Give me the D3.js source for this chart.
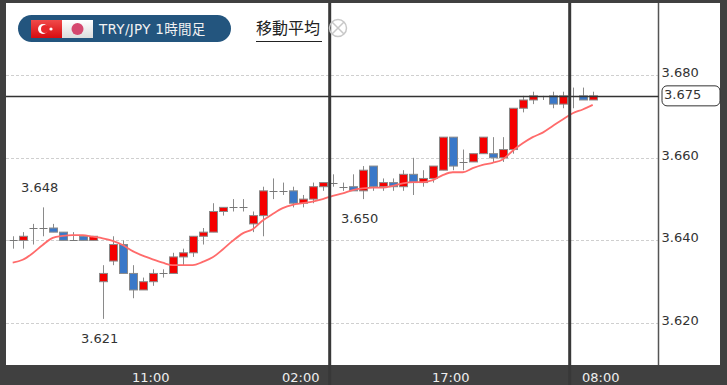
<!DOCTYPE html>
<html lang="ja">
<head>
  <meta charset="UTF-8">
  <title>TRY/JPY 1時間足</title>
  <style>
    html, body { margin: 0; padding: 0; background: #404040; overflow: hidden; }
    svg { display: block; }
    text { font-family: 'DejaVu Sans', sans-serif; }
    .tick-label { font-size: 13px; fill: #333; }
    .time-label { font-size: 13px; fill: #eee; }
  </style>
  <script src="https://d3js.org/d3.v7.min.js"></script>
</head>
<body>
  <svg id="chart" width="727" height="385"></svg>
  <script>
    // hourly candles
    const openPrice = [3.640,3.640,3.643,3.643,3.643,3.642,3.640,3.641,3.640,3.630,
      3.635,3.639,3.632,3.628,3.630,3.632,3.632,3.636,3.637,3.641,
      3.642,3.647,3.648,3.648,3.644,3.646,3.652,3.652,3.652,3.649,
      3.650,3.653,3.654,3.653,3.653,3.652,3.658,3.653,3.654,3.653,
      3.656,3.654,3.655,3.657,3.665,3.659,3.659,3.661,3.661,3.660,
      3.662,3.672,3.674,3.675,3.675,3.673,3.675,3.675,3.674];
    const closePrice = [3.640,3.641,3.643,3.643,3.642,3.640,3.640,3.640,3.641,3.632,
      3.639,3.632,3.628,3.630,3.632,3.632,3.636,3.637,3.641,3.642,
      3.647,3.648,3.648,3.648,3.646,3.652,3.652,3.652,3.649,3.650,
      3.653,3.654,3.654,3.653,3.652,3.657,3.653,3.654,3.653,3.656,
      3.654,3.655,3.658,3.665,3.658,3.659,3.661,3.665,3.660,3.662,
      3.672,3.674,3.675,3.675,3.673,3.675,3.675,3.674,3.675];
    const highPrice = [3.641,3.642,3.644,3.648,3.644,3.642,3.642,3.641,3.641,3.634,
      3.641,3.640,3.634,3.631,3.633,3.633,3.637,3.638,3.641,3.643,
      3.649,3.648,3.650,3.650,3.647,3.653,3.655,3.654,3.653,3.651,
      3.654,3.654,3.656,3.654,3.656,3.658,3.658,3.655,3.655,3.657,
      3.660,3.657,3.658,3.665,3.665,3.662,3.661,3.665,3.665,3.665,
      3.672,3.675,3.676,3.675,3.676,3.676,3.677,3.677,3.676];
    const lowPrice = [3.638,3.638,3.639,3.641,3.642,3.640,3.640,3.640,3.640,3.621,
      3.634,3.632,3.626,3.628,3.629,3.631,3.632,3.634,3.636,3.639,
      3.642,3.646,3.647,3.647,3.642,3.641,3.650,3.651,3.648,3.648,
      3.649,3.652,3.653,3.652,3.652,3.650,3.652,3.652,3.652,3.652,
      3.651,3.653,3.654,3.657,3.657,3.657,3.659,3.661,3.659,3.659,
      3.661,3.671,3.673,3.674,3.672,3.672,3.672,3.674,3.674];
    const movingAverage = [3.6346,3.6353,3.6369,3.6389,3.6406,3.6411,3.6413,3.6413,3.6409,3.6405,
      3.6399,3.6389,3.6374,3.6363,3.6354,3.6346,3.6340,3.6340,3.6340,3.6348,
      3.6359,3.6378,3.6399,3.6417,3.6427,3.6448,3.6464,3.6478,3.6486,3.6490,
      3.6494,3.6500,3.6508,3.6514,3.6522,3.6526,3.6528,3.6528,3.6532,3.6538,
      3.6541,3.6541,3.6546,3.6558,3.6565,3.6565,3.6575,3.6583,3.6588,3.6596,
      3.6617,3.6635,3.6650,3.6661,3.6677,3.6693,3.6708,3.6717,3.6728];
    const priceTicks = [3.620, 3.640, 3.660, 3.680];
    const timeLabels = ["11:00", "02:00", "17:00", "08:00"];
    const timeIndex = [14, 29, 44, 59];
    const separators = [31.7, 55.7];
    const currentPrice = 3.675;
    // candle index, price, above the candle or below
    const marks = [[3, 3.648, true], [9, 3.621, false], [35, 3.650, false]];

    const svg = d3.select("#chart");
    const plotLeft = 6, plotRight = 720, axisX = 658.5, plotTop = 3, plotBottom = 365;

    const x = d3.scaleLinear().domain([0, 58]).range([12.7, 592.7]);
    const y = d3.scaleLinear().domain([3.620, 3.680]).range([323, 75.2]);

    svg.append("rect").attr("width", 727).attr("height", 385).attr("fill", "#404040");
    svg.append("rect").attr("x", plotLeft).attr("y", plotTop)
      .attr("width", plotRight - plotLeft).attr("height", plotBottom - plotTop).attr("fill", "#fff");

    // grid
    svg.append("g").selectAll("line").data(priceTicks).enter().append("line")
      .attr("x1", plotLeft).attr("x2", axisX)
      .attr("y1", d => Math.round(y(d)) + 0.5).attr("y2", d => Math.round(y(d)) + 0.5)
      .attr("stroke", "#cfcfcf").attr("stroke-dasharray", "3,2");

    // price axis
    const yAxis = d3.axisRight(y).tickValues(priceTicks).tickSize(0).tickPadding(3)
      .tickFormat(d3.format(".3f"));
    const yG = svg.append("g").attr("transform", `translate(${axisX},0)`).call(yAxis);
    yG.attr("font-family", null).attr("font-size", null);
    yG.select(".domain").remove();
    yG.selectAll("text").attr("class", "tick-label").attr("dy", "0.1em");
    svg.append("line").attr("x1", axisX).attr("x2", axisX).attr("y1", plotTop).attr("y2", plotBottom)
      .attr("stroke", "#555").attr("stroke-width", 1.5);

    // candles
    const candles = svg.append("g").selectAll("g").data(openPrice.map((o, i) => i)).enter().append("g");
    candles.append("line")
      .attr("x1", i => Math.round(x(i)) + 0.5).attr("x2", i => Math.round(x(i)) + 0.5)
      .attr("y1", i => y(highPrice[i])).attr("y2", i => y(lowPrice[i]))
      .attr("stroke", "#8a8a8a");
    // open = close draws as a dash
    candles.filter(i => openPrice[i] === closePrice[i]).append("line")
      .attr("x1", i => Math.round(x(i)) - 3.5).attr("x2", i => Math.round(x(i)) + 4.5)
      .attr("y1", i => Math.round(y(openPrice[i])) + 0.5).attr("y2", i => Math.round(y(openPrice[i])) + 0.5)
      .attr("stroke", "#777");
    candles.filter(i => openPrice[i] !== closePrice[i]).append("rect")
      .attr("x", i => Math.round(x(i)) - 3.5)
      .attr("width", 8)
      .attr("y", i => y(Math.max(openPrice[i], closePrice[i])))
      .attr("height", i => Math.abs(y(openPrice[i]) - y(closePrice[i])))
      .attr("fill", i => closePrice[i] > openPrice[i] ? "#f50000" : "#3a78c8")
      .attr("stroke", "#8a8a8a");

    // moving average
    const line = d3.line().x((d, i) => x(i)).y(d => y(d)).curve(d3.curveMonotoneX);
    svg.append("path").datum(movingAverage).attr("d", line)
      .attr("fill", "none").attr("stroke", "#ff6b6b").attr("stroke-width", 1.8);

    // current price
    svg.append("line").attr("x1", plotLeft).attr("x2", axisX)
      .attr("y1", Math.round(y(currentPrice)) + 0.5).attr("y2", Math.round(y(currentPrice)) + 0.5)
      .attr("stroke", "#333").attr("stroke-width", 1.4);
    svg.append("rect").attr("x", 662).attr("y", y(currentPrice) - 10).attr("width", 58).attr("height", 20)
      .attr("rx", 5).attr("fill", "#fff").attr("stroke", "#333");
    svg.append("text").attr("class", "tick-label").attr("x", 664).attr("y", y(currentPrice) + 3.5)
      .text(d3.format(".3f")(currentPrice));

    // high / low notes
    svg.append("g").selectAll("text").data(marks).enter().append("text")
      .attr("class", "tick-label")
      .attr("text-anchor", "middle")
      .attr("x", d => x(d[0]) - 3)
      .attr("y", d => y(d[1]) + (d[2] ? -15 : 24))
      .text(d => d3.format(".3f")(d[1]));

    // separators
    svg.append("g").selectAll("line").data(separators).enter().append("line")
      .attr("x1", d => x(d)).attr("x2", d => x(d)).attr("y1", plotTop).attr("y2", 385)
      .attr("stroke", "#383838").attr("stroke-width", 3);

    // time axis
    svg.append("g").selectAll("text").data(timeLabels).enter().append("text")
      .attr("class", "time-label")
      .attr("text-anchor", "middle")
      .attr("x", (d, i) => x(timeIndex[i]) - 2)
      .attr("y", 382)
      .text(d => d);

    // header pill
    const defs = svg.append("defs");
    const redGrad = defs.append("linearGradient").attr("id", "tr").attr("x1", 0).attr("x2", 0).attr("y1", 0).attr("y2", 1);
    redGrad.append("stop").attr("offset", "0%").attr("stop-color", "#f04a4a");
    redGrad.append("stop").attr("offset", "100%").attr("stop-color", "#d80c10");
    const whiteGrad = defs.append("linearGradient").attr("id", "jp").attr("x1", 0).attr("x2", 0).attr("y1", 0).attr("y2", 1);
    whiteGrad.append("stop").attr("offset", "0%").attr("stop-color", "#fff");
    whiteGrad.append("stop").attr("offset", "100%").attr("stop-color", "#dcdcdc");

    const head = svg.append("g");
    head.append("rect").attr("x", 18).attr("y", 15).attr("width", 213).attr("height", 27)
      .attr("rx", 13.5).attr("fill", "#23557e");
    head.append("rect").attr("x", 31).attr("y", 20).attr("width", 31).attr("height", 18).attr("fill", "url(#tr)");
    head.append("circle").attr("cx", 43).attr("cy", 29).attr("r", 5).attr("fill", "#fff");
    head.append("circle").attr("cx", 45).attr("cy", 29).attr("r", 4).attr("fill", "#e8282c");
    head.append("circle").attr("cx", 51).attr("cy", 29).attr("r", 1.6).attr("fill", "#fff");
    head.append("rect").attr("x", 62).attr("y", 20).attr("width", 31).attr("height", 18).attr("fill", "url(#jp)");
    head.append("circle").attr("cx", 77.5).attr("cy", 29).attr("r", 6).attr("fill", "#d5476e");
    head.append("text").attr("x", 99).attr("y", 33.5).attr("fill", "#f2f2f2")
      .style("font-family", "'DejaVu Sans','Noto Sans CJK JP',sans-serif").style("font-size", "13.5px")
      .style("letter-spacing", "0.3px")
      .text("TRY/JPY 1時間足");

    head.append("text").attr("x", 256).attr("y", 34).attr("fill", "#222")
      .style("font-family", "'Noto Sans CJK JP',sans-serif").style("font-size", "16px")
      .text("移動平均");
    head.append("line").attr("x1", 256).attr("x2", 322).attr("y1", 41.5).attr("y2", 41.5).attr("stroke", "#222");

    // close button
    head.append("circle").attr("cx", 338).attr("cy", 28).attr("r", 8.5)
      .attr("fill", "none").attr("stroke", "#c8c8c8").attr("stroke-width", 1.5);
    head.append("path").attr("d", "M332,22L344,34M344,22L332,34")
      .attr("fill", "none").attr("stroke", "#c8c8c8").attr("stroke-width", 1.5);
  </script>
</body>
</html>
